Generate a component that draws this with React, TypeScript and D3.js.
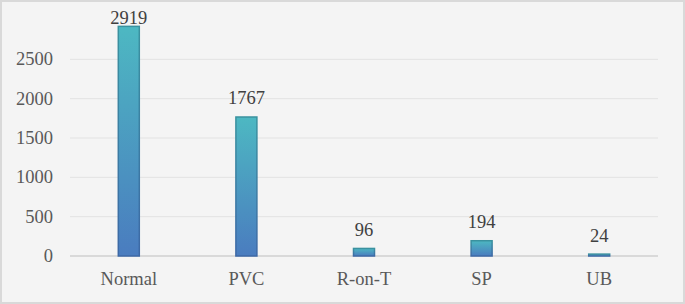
import React from "react";
import * as d3 from "d3";

const categories = ["Normal", "PVC", "R-on-T", "SP", "UB"];
const values = [2919, 1767, 96, 194, 24];
const yTicks = [0, 500, 1000, 1500, 2000, 2500];

const W = 685;
const H = 304;
const margin = { left: 70, right: 27, top: 20, bottom: 48 };

export default function App() {
  const x = d3
    .scaleBand<string>()
    .domain(categories)
    .range([margin.left, W - margin.right])
    .paddingInner(0)
    .paddingOuter(0);
  const y = d3.scaleLinear().domain([0, 3000]).range([H - margin.bottom, margin.top]);
  const barW = 21;
  const font = "Liberation Serif";
  const fs = 18.5;
  return (
    <div style={{ position: "absolute", left: 0, top: 0 }}>
      <svg width={W} height={H} style={{ display: "block" }}>
        <defs>
          <linearGradient id="barGrad" x1="0" y1="0" x2="0" y2="1" gradientUnits="objectBoundingBox">
            <stop offset="0%" stopColor="#4db8c2" />
            <stop offset="100%" stopColor="#4a7cbf" />
          </linearGradient>
          <linearGradient id="barStroke" x1="0" y1="0" x2="0" y2="1" gradientUnits="objectBoundingBox">
            <stop offset="0%" stopColor="#3a929f" />
            <stop offset="100%" stopColor="#3d68a6" />
          </linearGradient>
        </defs>
        <rect x={1} y={1} width={W - 2} height={H - 2} fill="#f4f4f4" stroke="#d9d9d9" strokeWidth={2} />
        {yTicks.map((t) => (
          <g key={t}>
            <line
              x1={margin.left}
              x2={W - margin.right}
              y1={y(t)}
              y2={y(t)}
              stroke={t === 0 ? "#d0d0d0" : "#e2e2e2"}
              strokeWidth={t === 0 ? 1.5 : 1}
            />
            <text
              x={53}
              y={y(t) + 6}
              textAnchor="end"
              fontFamily={font}
              fontSize={fs}
              fill="#595959"
            >
              {t}
            </text>
          </g>
        ))}
        {categories.map((c, i) => {
          const cx = (x(c) as number) + x.bandwidth() / 2;
          const v = values[i];
          const top = y(v);
          const h = y(0) - top;
          return (
            <g key={c}>
              <rect
                x={cx - barW / 2}
                y={top}
                width={barW}
                height={Math.max(h, 0)}
                fill="url(#barGrad)"
                stroke="url(#barStroke)"
                strokeWidth={1.5}
              />
              <text
                x={cx}
                y={Math.max(top - 12.5, 23.5)}
                textAnchor="middle"
                fontFamily={font}
                fontSize={fs}
                fill="#404040"
              >
                {v}
              </text>
              <text
                x={cx}
                y={y(0) + 29}
                textAnchor="middle"
                fontFamily={font}
                fontSize={fs}
                fill="#595959"
              >
                {c}
              </text>
            </g>
          );
        })}
      </svg>
    </div>
  );
}
